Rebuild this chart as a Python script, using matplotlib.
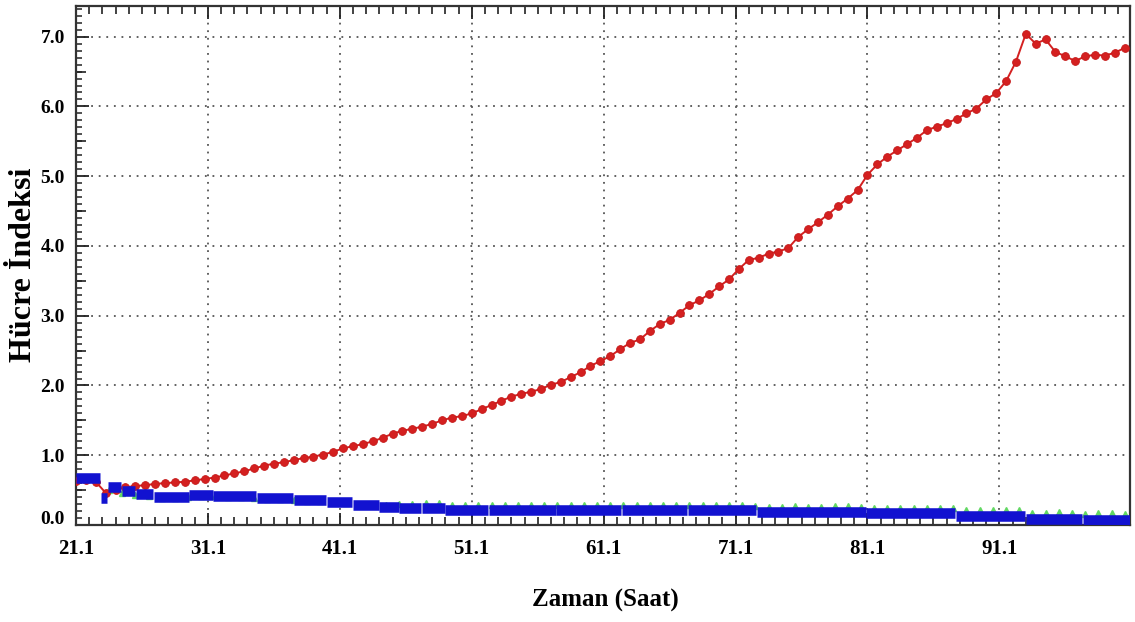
import numpy as np
import matplotlib
matplotlib.use("Agg")
import matplotlib.pyplot as plt
from matplotlib.ticker import FixedLocator, MultipleLocator, NullFormatter
from matplotlib.transforms import ScaledTranslation

plt.rcParams['font.family'] = ['Liberation Serif', 'DejaVu Serif']
plt.rcParams['font.weight'] = 'bold'

# --- data -------------------------------------------------------------
# red series: cell index every 0.75 h starting at 21.1 h
red_start, red_step = 21.1, 0.75
red_index = [
    0.63, 0.64, 0.62, 0.46, 0.50, 0.54, 0.56, 0.57, 0.59, 0.60,
    0.61, 0.62, 0.64, 0.66, 0.68, 0.71, 0.74, 0.77, 0.81, 0.85,
    0.88, 0.90, 0.93, 0.96, 0.98, 1.01, 1.05, 1.10, 1.13, 1.16,
    1.20, 1.25, 1.31, 1.35, 1.38, 1.41, 1.45, 1.50, 1.54, 1.56,
    1.60, 1.66, 1.72, 1.78, 1.84, 1.88, 1.91, 1.95, 2.01, 2.05,
    2.12, 2.19, 2.28, 2.35, 2.42, 2.52, 2.61, 2.66, 2.78, 2.88,
    2.94, 3.04, 3.15, 3.22, 3.31, 3.42, 3.52, 3.67, 3.80, 3.83,
    3.89, 3.92, 3.97, 4.13, 4.24, 4.34, 4.45, 4.57, 4.68, 4.80,
    5.02, 5.17, 5.28, 5.37, 5.46, 5.55, 5.66, 5.71, 5.76, 5.82,
    5.90, 5.97, 6.10, 6.19, 6.36, 6.64, 7.04, 6.90, 6.96, 6.78,
    6.72, 6.65, 6.72, 6.74, 6.73, 6.77, 6.84,
]

# blue series: recorded as constant runs (start h, end h, index)
blue_start = [21.1, 23.0, 23.5, 24.55, 25.65, 27.0, 29.7, 31.5, 34.8, 37.6,
              40.1, 42.1, 44.1, 45.6, 47.3, 49.1, 52.4, 57.5, 62.5, 67.5,
              72.7, 81.0, 87.8, 93.1, 97.4]
blue_end = [22.95, 23.45, 24.5, 25.6, 26.95, 29.65, 31.45, 34.75, 37.55, 40.05,
            42.05, 44.05, 45.55, 47.25, 49.05, 52.35, 57.45, 62.45, 67.45, 72.65,
            80.95, 87.75, 93.05, 97.35, 101.0]
blue_level = [0.68, 0.38, 0.54, 0.49, 0.45, 0.40, 0.43, 0.41, 0.38, 0.36,
              0.33, 0.29, 0.26, 0.24, 0.25, 0.21, 0.21, 0.21, 0.21, 0.21,
              0.19, 0.17, 0.13, 0.09, 0.07]

# green series: hourly readings starting at 21.6 h
green_start, green_step = 21.6, 1.0
green_index = [
    0.66, 0.66, 0.50, 0.46, 0.43, 0.41, 0.39, 0.38, 0.40, 0.42,
    0.41, 0.40, 0.40, 0.39, 0.37, 0.37, 0.36, 0.35, 0.35, 0.33,
    0.32, 0.30, 0.29, 0.29, 0.30, 0.30, 0.31, 0.31, 0.28, 0.28,
    0.28, 0.29, 0.28, 0.28, 0.29, 0.28, 0.28, 0.29, 0.28, 0.28,
    0.29, 0.28, 0.28, 0.29, 0.28, 0.28, 0.29, 0.28, 0.28, 0.29,
    0.28, 0.27, 0.26, 0.26, 0.27, 0.26, 0.26, 0.27, 0.27, 0.26,
    0.24, 0.24, 0.25, 0.24, 0.24, 0.25, 0.24, 0.21, 0.21, 0.22,
    0.21, 0.21, 0.17, 0.17, 0.18, 0.17, 0.16, 0.17, 0.17, 0.16,
]

x_major = [21.1, 31.1, 41.1, 51.1, 61.1, 71.1, 81.1, 91.1]
x_labels = ["21.1", "31.1", "41.1", "51.1", "61.1", "71.1", "81.1", "91.1"]
y_major = [0, 1, 2, 3, 4, 5, 6, 7]
y_labels = ["0.0", "1.0", "2.0", "3.0", "4.0", "5.0", "6.0", "7.0"]

red_hours = red_start + red_step * np.arange(len(red_index))
green_hours = green_start + green_step * np.arange(len(green_index))

# --- figure -----------------------------------------------------------
W, H = 1135, 622
fig = plt.figure(figsize=(W / 100, H / 100), dpi=100)
ax = fig.add_axes([76 / W, 97 / H, 1054 / W, 519 / H])

ax.plot(green_hours, green_index, linestyle='none', marker='^',
        markersize=5, color='#62d862', zorder=2)
ax.plot(red_hours, red_index, color='#d42020', linewidth=1.4,
        marker='o', markersize=5.6, markeredgewidth=0.6,
        markeredgecolor='#c41818', zorder=3)
ax.hlines(blue_level, blue_start, blue_end, colors='#1212d0',
          linewidth=7.6, capstyle='butt', zorder=4)

ax.set_xlim(21.1, 101.0)
ax.set_ylim(0, 7.44)

ax.xaxis.set_major_locator(FixedLocator(x_major))
ax.set_xticklabels(x_labels)
ax.xaxis.set_minor_locator(MultipleLocator(1.0, offset=0.1))
ax.xaxis.set_minor_formatter(NullFormatter())
ax.yaxis.set_major_locator(FixedLocator(y_major))
ax.set_yticklabels(y_labels)
ax.yaxis.set_minor_locator(MultipleLocator(0.1))

ax.tick_params(axis='x', which='major', direction='in', length=9, width=1.3,
               top=True, bottom=True, labelsize=15, pad=10, color='#222')
ax.tick_params(axis='x', which='minor', direction='in', length=6, width=1.2,
               top=True, bottom=True, color='#222')
ax.tick_params(axis='y', which='major', direction='in', length=9, width=1.3,
               left=True, right=False, labelsize=14, pad=8, color='#222')
ax.tick_params(axis='y', which='minor', direction='in', length=4, width=1.1,
               left=True, right=False, color='#222')

# slightly longer marks at the half-unit positions of the index axis
half = ax.secondary_yaxis('left')
half.set_yticks([0.5, 1.5, 2.5, 3.5, 4.5, 5.5, 6.5])
half.tick_params(direction='in', length=7, width=1.2, labelleft=False,
                 color='#222')
half.spines['left'].set_visible(False)

for lab in ax.get_xticklabels() + ax.get_yticklabels():
    lab.set_fontweight('bold')

# lift the bottom index label off the frame
zero_lab = ax.get_yticklabels()[0]
zero_lab.set_transform(zero_lab.get_transform() +
                       ScaledTranslation(0, 7 / 100, fig.dpi_scale_trans))

ax.grid(True, which='major', linestyle=(0, (1, 3.2)), linewidth=1.3,
        color='#555555')
ax.set_axisbelow(True)

for sp in ax.spines.values():
    sp.set_linewidth(1.6)
    sp.set_color('#333333')

ax.set_xlabel("Zaman (Saat)", fontsize=18, fontweight='bold')
ax.xaxis.set_label_coords((605 - 76) / 1054, -(600 - 525) / 519)
ax.xaxis.label.set_va('center')
ax.set_ylabel("Hücre İndeksi", fontsize=23, fontweight='bold')
ax.yaxis.set_label_coords((24 - 76) / 1054, (525 - 265) / 519)
ax.yaxis.label.set_va('center')

fig.savefig("out.png", dpi=100, facecolor='white')
